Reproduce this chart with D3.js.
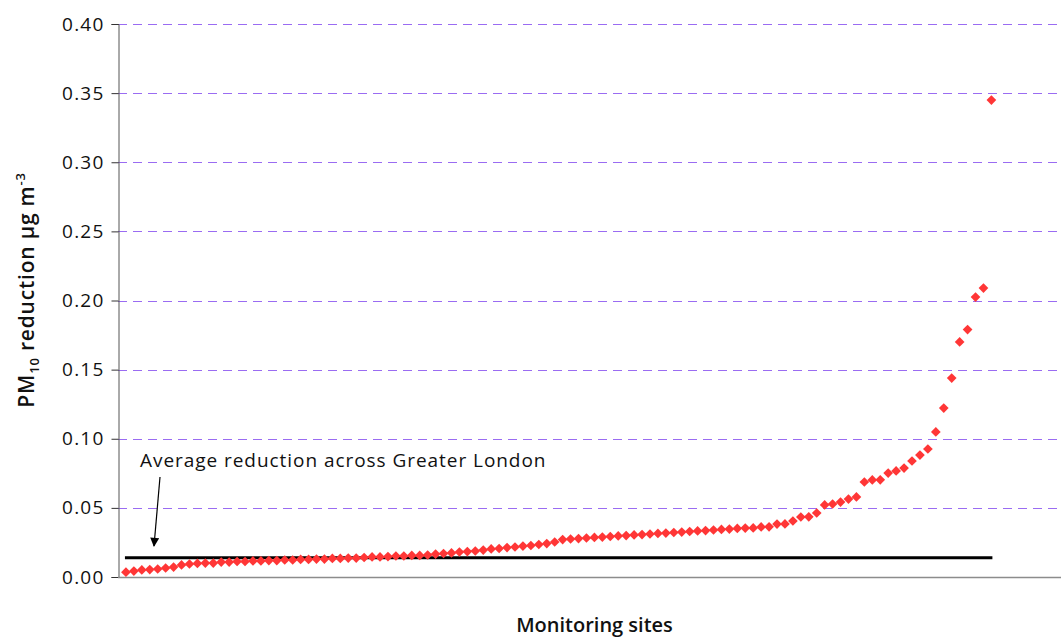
<!DOCTYPE html>
<html>
<head>
<meta charset="utf-8">
<script src="https://cdn.jsdelivr.net/npm/d3@7"></script>
<style>
  html, body { margin: 0; padding: 0; background: #fff; }
  svg text { font-family: "Open Sans", Lato, sans-serif; }
</style>
</head>
<body>
<svg id="chart" width="1061" height="639"></svg>
<script>
// ---- data ----
const siteValues = [
  0.0035, 0.0043, 0.0051, 0.0054, 0.0058, 0.0065, 0.0072, 0.0087, 0.0094, 0.0098,
  0.0101, 0.0101, 0.0108, 0.0108, 0.0112, 0.0112, 0.0116, 0.0116, 0.0119, 0.0119,
  0.0123, 0.0123, 0.0127, 0.0127, 0.0130, 0.0130, 0.0134, 0.0134, 0.0137, 0.0137,
  0.0141, 0.0145, 0.0145, 0.0148, 0.0152, 0.0152, 0.0156, 0.0156, 0.0159, 0.0166,
  0.0170, 0.0174, 0.0181, 0.0184, 0.0188, 0.0195, 0.0203, 0.0206, 0.0213, 0.0217,
  0.0224, 0.0228, 0.0235, 0.0242, 0.0253, 0.0271, 0.0275, 0.0278, 0.0282, 0.0286,
  0.0289, 0.0293, 0.0297, 0.0300, 0.0304, 0.0307, 0.0311, 0.0315, 0.0318, 0.0322,
  0.0325, 0.0329, 0.0333, 0.0336, 0.0340, 0.0344, 0.0347, 0.0351, 0.0354, 0.0355,
  0.0362, 0.0363, 0.0383, 0.0384, 0.0405, 0.0434, 0.0435, 0.0463, 0.0521, 0.0528,
  0.0542, 0.0564, 0.0579, 0.0687, 0.0702, 0.0703, 0.0752, 0.0767, 0.0788, 0.0839,
  0.0882, 0.0926, 0.1049, 0.1222, 0.1439, 0.1700, 0.1790, 0.2025, 0.2090, 0.3450
];
const averageReduction = 0.014;
const yTicks = [0, 0.05, 0.10, 0.15, 0.20, 0.25, 0.30, 0.35, 0.40];
const annotationText = "Average reduction across Greater London";
const xTitle = "Monitoring sites";

// ---- layout ----
const svg = d3.select("#chart");
const margin = { left: 118, right: 0, top: 24, bottom: 62 };
const W = 1061, H = 639;
const plotR = W - margin.right, plotB = H - margin.bottom;

const x = d3.scaleLinear().domain([-1, siteValues.length]).range([118, 118 + 7.94 * (siteValues.length + 1)]);
const y = d3.scaleLinear().domain([0, 0.40]).range([plotB, margin.top]);

// gridlines
svg.append("g").selectAll("line").data(yTicks.filter(d => d > 0)).join("line")
  .attr("x1", margin.left).attr("x2", plotR)
  .attr("y1", d => Math.round(y(d)) + 0.5).attr("y2", d => Math.round(y(d)) + 0.5)
  .attr("stroke", "#9a6cf2").attr("stroke-width", 1).attr("stroke-dasharray", "9,6");

// y axis
const yAxis = d3.axisLeft(y).tickValues(yTicks).tickFormat(d3.format(".2f")).tickSize(7).tickPadding(7);
const gy = svg.append("g").attr("transform", `translate(${margin.left + 0.5},0)`).call(yAxis);
gy.select(".domain").attr("stroke", "#555");
gy.selectAll(".tick line").attr("stroke", "#333");
gy.selectAll(".tick text").attr("font-size", 19).attr("fill", "#111")
  .attr("letter-spacing", 1.2)
  .style("font-family", "'Open Sans', sans-serif");

// x axis line
svg.append("line").attr("x1", margin.left).attr("x2", plotR)
  .attr("y1", plotB + 0.5).attr("y2", plotB + 0.5).attr("stroke", "#8c8c8c").attr("stroke-width", 1.5);

// average line
svg.append("line")
  .attr("x1", x(0) - 1).attr("x2", x(siteValues.length - 1) + 1)
  .attr("y1", y(averageReduction)).attr("y2", y(averageReduction))
  .attr("stroke", "#000").attr("stroke-width", 3);

// points
const diamond = d3.symbol().type(d3.symbolDiamond2).size(60);
svg.append("g").selectAll("path").data(siteValues).join("path")
  .attr("d", diamond)
  .attr("transform", (d, i) => `translate(${x(i)},${y(d)})`)
  .attr("fill", "#ff3636");

// annotation
svg.append("text").attr("x", 140).attr("y", 467).attr("font-size", 19).attr("fill", "#111")
  .attr("letter-spacing", 0.95)
  .text(annotationText);
svg.append("defs").append("marker").attr("id", "arr").attr("viewBox", "0 0 10 10")
  .attr("refX", 9).attr("refY", 5).attr("markerWidth", 10).attr("markerHeight", 9)
  .attr("markerUnits", "userSpaceOnUse").attr("orient", "auto")
  .append("path").attr("d", "M0,0 L10,5 L0,10 Z").attr("fill", "#000");
svg.append("line").attr("x1", 160).attr("y1", 477).attr("x2", 154).attr("y2", 546)
  .attr("stroke", "#000").attr("stroke-width", 1.2).attr("marker-end", "url(#arr)");

// axis titles
svg.append("text").attr("x", (margin.left + plotR) / 2 + 5).attr("y", 632)
  .attr("text-anchor", "middle").attr("font-size", 20).attr("font-weight", 600).attr("fill", "#111")
  .text(xTitle);

const yt = svg.append("text").attr("transform", "translate(34,290) rotate(-90)")
  .attr("text-anchor", "middle").attr("font-size", 21).attr("font-weight", 600).attr("fill", "#111")
  .attr("letter-spacing", 0.8);
yt.append("tspan").text("PM");
yt.append("tspan").attr("font-size", 13).attr("dy", 5).text("10");
yt.append("tspan").attr("dy", -5).text(" reduction µg m");
yt.append("tspan").attr("font-size", 13).attr("dy", -9).text("-3");
</script>
</body>
</html>
